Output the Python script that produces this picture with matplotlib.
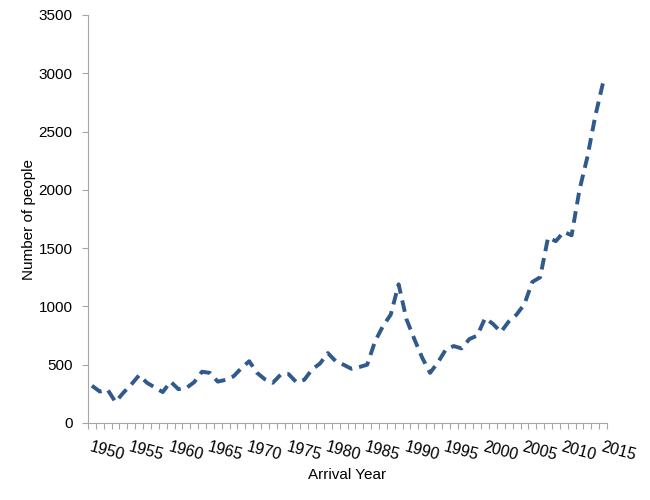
import matplotlib
matplotlib.use("Agg")
import matplotlib.pyplot as plt
from matplotlib.ticker import FixedLocator, NullFormatter

plt.rcParams["font.family"] = ["Liberation Sans", "DejaVu Sans"]

# ---------------------------------------------------------------------------
# Data
# ---------------------------------------------------------------------------
years = list(range(1950, 2016))
people = [
    320, 270, 285, 180, 260, 330, 410, 345, 305, 265,   # 1950-1959
    355, 290, 300, 350, 440, 430, 355, 370, 400, 470,   # 1960-1969
    530, 430, 375, 345, 415, 420, 350, 370, 460, 510,   # 1970-1979
    600, 530, 500, 465, 480, 500, 700, 830, 930, 1190,  # 1980-1989
    890, 720, 560, 430, 520, 630, 660, 640, 720, 750,   # 1990-1999
    900, 850, 780, 870, 930, 1020, 1210, 1250, 1590, 1560,  # 2000-2009
    1640, 1610, 2000, 2280, 2630, 2920,                 # 2010-2015
]
label_years = [1950, 1955, 1960, 1965, 1970, 1975, 1980, 1985, 1990,
               1995, 2000, 2005, 2010, 2015]
y_ticks = [0, 500, 1000, 1500, 2000, 2500, 3000, 3500]

LINE_COLOR = "#2f5a8b"
AXIS_COLOR = "#a6a6a6"
TEXT_COLOR = "#000000"

fig = plt.figure(figsize=(6.5, 5.0), dpi=100)
ax = fig.add_axes([88 / 650, 1 - 423 / 500, (607 - 88) / 650, (423 - 15) / 500])

ax.plot(years, people, color=LINE_COLOR, linewidth=2.8,
        linestyle=(0, (3.0, 1.8)), solid_joinstyle="round")

# category style x axis: ticks between years, labels every five years
ax.set_xlim(years[0] - 0.5, years[-1] + 0.5)
ax.xaxis.set_major_locator(FixedLocator(label_years))
ax.set_xticklabels([str(y) for y in label_years], rotation=-15,
                   ha="left", va="top", rotation_mode="anchor")
ax.xaxis.set_minor_locator(FixedLocator([y - 0.5 for y in years] + [years[-1] + 0.5]))
ax.xaxis.set_minor_formatter(NullFormatter())
ax.tick_params(axis="x", which="major", length=0, pad=12, labelsize=11.5,
               labelcolor=TEXT_COLOR)
ax.tick_params(axis="x", which="minor", length=4, width=0.8, color=AXIS_COLOR)

ax.set_ylim(0, 3500)
ax.set_yticks(y_ticks)
ax.tick_params(axis="y", length=4, width=0.8, color=AXIS_COLOR, pad=7,
               labelsize=11, labelcolor=TEXT_COLOR)

for side in ("top", "right"):
    ax.spines[side].set_visible(False)
for side in ("left", "bottom"):
    ax.spines[side].set_color(AXIS_COLOR)
    ax.spines[side].set_linewidth(0.8)

ax.set_xlabel("Arrival Year", fontsize=11, color=TEXT_COLOR, labelpad=3)
ax.set_ylabel("Number of people", fontsize=11, color=TEXT_COLOR, labelpad=2)

fig.savefig("out.png", dpi=100)
